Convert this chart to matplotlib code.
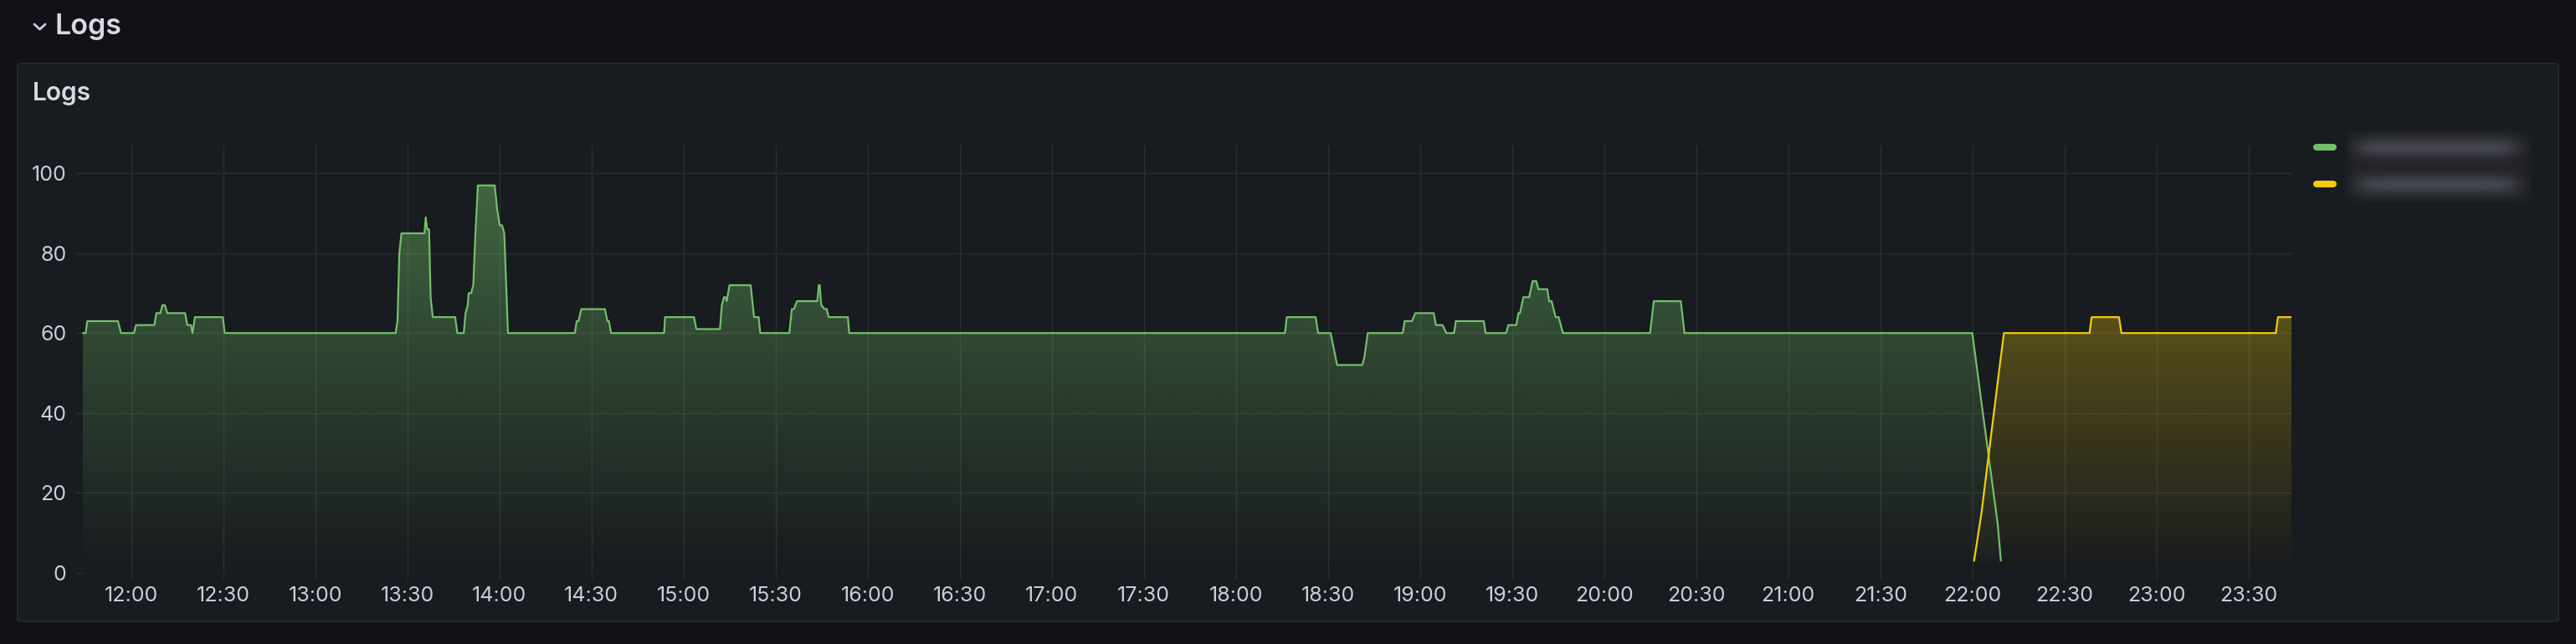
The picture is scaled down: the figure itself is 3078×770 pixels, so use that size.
import numpy as np
import pandas as pd
import matplotlib
matplotlib.use("Agg")
import matplotlib.pyplot as plt
import matplotlib.dates as mdates
import matplotlib.colors as mcolors
from matplotlib.patches import FancyBboxPatch
from matplotlib.lines import Line2D

# ---- data (clock time, log count) ----
day = "2024-01-01 "
green_times = [
    "11:44:12", "11:45:12", "11:45:42", "11:55:42", "11:56:42", "12:00:54", "12:01:36",
    "12:07:36", "12:08:12", "12:09:30", "12:10:12", "12:11:00", "12:11:48", "12:17:36",
    "12:18:18", "12:19:30", "12:20:00", "12:20:48", "12:29:54", "12:30:30",
    "13:26:12", "13:26:48", "13:27:24", "13:28:06", "13:35:36", "13:36:00", "13:36:30",
    "13:37:06", "13:37:36", "13:38:18", "13:45:36", "13:46:18", "13:48:24", "13:49:00",
    "13:49:42", "13:50:00", "13:50:48", "13:51:30", "13:52:12", "13:53:00", "13:58:30",
    "13:59:18", "14:00:06", "14:00:54", "14:01:36", "14:02:48",
    "14:24:36", "14:25:12", "14:25:48", "14:26:42", "14:34:24", "14:35:12", "14:35:42",
    "14:36:24", "14:53:42", "14:54:00", "15:03:24", "15:04:12", "15:11:54", "15:12:30",
    "15:13:12", "15:13:42", "15:14:06", "15:15:00", "15:21:54", "15:23:00", "15:24:30",
    "15:25:00", "15:34:30", "15:35:18", "15:36:00", "15:37:00", "15:43:36", "15:44:06",
    "15:44:24", "15:44:54", "15:46:00", "15:46:42", "15:47:18", "15:53:36", "15:54:00",
    "18:16:00", "18:16:36", "18:26:00", "18:26:48", "18:30:54", "18:33:00", "18:41:12",
    "18:41:54", "18:43:00", "18:54:24", "18:55:00", "18:57:24", "18:58:30", "19:04:30",
    "19:05:12", "19:07:24", "19:08:36", "19:11:06", "19:11:42", "19:20:48", "19:21:24",
    "19:28:06", "19:28:48", "19:31:24", "19:32:06", "19:32:36", "19:33:42", "19:35:36",
    "19:36:42", "19:37:54", "19:38:36", "19:41:30", "19:42:06", "19:42:54", "19:44:12",
    "19:45:12", "19:46:36", "20:15:00", "20:16:12", "20:25:00", "20:26:12",
    "22:00:00", "22:02:24", "22:08:18", "22:09:18",
]
green_values = [
    60, 60, 63, 63, 60, 60, 62,
    62, 65, 65, 67, 67, 65, 65,
    62, 62, 60, 64, 64, 60,
    60, 63, 80, 85, 85, 89, 86,
    86, 69, 64, 64, 60, 60, 65,
    67, 70, 70, 72, 85, 97, 97,
    91, 87, 87, 85, 60,
    60, 63, 63, 66, 66, 63, 63,
    60, 60, 64, 64, 61, 61, 67,
    69, 69, 68, 72, 72, 64, 64,
    60, 60, 66, 66, 68, 68, 72,
    72, 67, 66, 66, 64, 64, 60,
    60, 64, 64, 60, 60, 52, 52,
    54, 60, 60, 63, 63, 65, 65,
    62, 62, 60, 60, 63, 63, 60,
    60, 62, 62, 65, 65, 69, 69,
    73, 73, 71, 71, 68, 68, 64,
    64, 60, 60, 68, 68, 60,
    60, 46, 12, 3,
]
yellow_times = [
    "22:00:36", "22:03:00", "22:08:48", "22:10:18", "22:38:12", "22:38:54",
    "22:47:48", "22:48:36", "23:38:54", "23:39:36", "23:44:00",
]
yellow_values = [3, 15, 51, 60, 60, 64, 64, 60, 60, 64, 64]

y_ticks = [0, 20, 40, 60, 80, 100]
x_start, x_end = "11:44:00", "23:44:00"
y_top = 107

GREEN = "#73bf69"
YELLOW = "#f2cc0c"
TEXT = "#ccccdc"
GRID = "#2c2e33"
PANEL = "#181b1f"
PAGE = "#111217"

plt.rcParams["font.family"] = ["Inter", "DejaVu Sans"]

W, H = 3078, 770
fig = plt.figure(figsize=(W / 100, H / 100), dpi=100, facecolor=PAGE)

# panel card (behind the axes)
panel = FancyBboxPatch((21 / W, 1 - 743 / H), (3057 - 21) / W, (743 - 76) / H,
                       boxstyle="round,pad=0,rounding_size=0.0013", mutation_aspect=W / H,
                       transform=fig.transFigure, fc=PANEL, ec="#26282d", lw=1.5, zorder=-10)
fig.patches.append(panel)

# row header with chevron
fig.lines.append(Line2D([41 / W, 47.5 / W, 54 / W], [1 - 29 / H, 1 - 35 / H, 1 - 29 / H],
                        transform=fig.transFigure, color=TEXT, lw=2.0,
                        solid_capstyle="round", solid_joinstyle="round"))
fig.text(65 / W, 1 - 40.5 / H, "Logs", fontsize=24.5, fontweight=600, color="#d8d9e3", va="baseline")
fig.text(39 / W, 1 - 120.5 / H, "Logs", fontsize=21.5, fontweight=600, color="#d8d9e3", va="baseline")

ax = fig.add_axes([98 / W, 1 - 684.5 / H, (2738 - 98) / W, (684.5 - 174) / H])
ax.set_facecolor("none")


def to_num(times):
    return mdates.date2num(pd.to_datetime([day + t for t in times]))


def gradient_area(x, y, color):
    poly = ax.fill_between(x, y, 0, color="none", lw=0)
    grad = np.zeros((256, 1, 4))
    grad[:, 0, :3] = mcolors.to_rgb(color)
    grad[:, 0, 3] = np.linspace(0, 0.5, 256)
    im = ax.imshow(grad, aspect="auto", origin="lower", interpolation="bilinear",
                   extent=[x.min(), x.max(), 0, y_top], zorder=1)
    im.set_clip_path(poly.get_paths()[0], transform=ax.transData)
    ax.plot(x, y, color=color, lw=1.6, zorder=3, solid_joinstyle="round")


gx, gy = to_num(green_times), np.array(green_values, float)
yx, yy = to_num(yellow_times), np.array(yellow_values, float)
gradient_area(gx, gy, GREEN)
gradient_area(yx, yy, YELLOW)

ax.set_xlim(to_num([x_start])[0], to_num([x_end])[0])
ax.set_ylim(0, y_top)
ax.set_yticks(y_ticks)
ax.xaxis.set_major_locator(mdates.MinuteLocator(byminute=[0, 30]))
ax.xaxis.set_major_formatter(mdates.DateFormatter("%H:%M"))
ax.grid(True, color=GRID, lw=1)
ax.set_axisbelow(True)
for s in ax.spines.values():
    s.set_visible(False)
ax.tick_params(axis="both", colors=GRID, labelcolor=TEXT, labelsize=18, length=5, width=1)
ax.tick_params(axis="y", pad=8.3)
ax.tick_params(axis="x", pad=7)

# legend: colour swatches, labels are blurred out in the reference
for yc, col in [(176, GREEN), (220, YELLOW)]:
    fig.lines.append(Line2D([2768 / W, 2788 / W], [1 - yc / H, 1 - yc / H], transform=fig.transFigure,
                            color=col, lw=5.8, solid_capstyle="round"))

lh, lw_ = 88, 223
gy_, gx_ = np.mgrid[0:lh, 0:lw_]
box = 1 / (1 + np.exp(-(gx_ - 4) / 3)) / (1 + np.exp(-(lw_ - 4 - gx_) / 3))
box = box / (1 + np.exp(-(gy_ - 3) / 3)) / (1 + np.exp(-(lh - 3 - gy_) / 3))
bars = np.zeros_like(box)
for yc in (21, 65):
    bars += np.exp(-((gy_ - yc) / 12.0) ** 2)
bars *= 1 / (1 + np.exp(-(gx_ - 16) / 7)) / (1 + np.exp(-(lw_ - 20 - gx_) / 7))
bg = np.array(mcolors.to_rgb(PANEL))
mid = np.array(mcolors.to_rgb("#212328"))
blob = np.array(mcolors.to_rgb("#44454e"))
img = bg + (mid - bg) * box[..., None] + (blob - mid) * bars[..., None]
lax = fig.add_axes([2802 / W, 1 - 243 / H, lw_ / W, lh / H])
lax.imshow(np.clip(img, 0, 1), aspect="auto", interpolation="bilinear")
lax.axis("off")

fig.savefig("out.png", dpi=100, facecolor=PAGE)
